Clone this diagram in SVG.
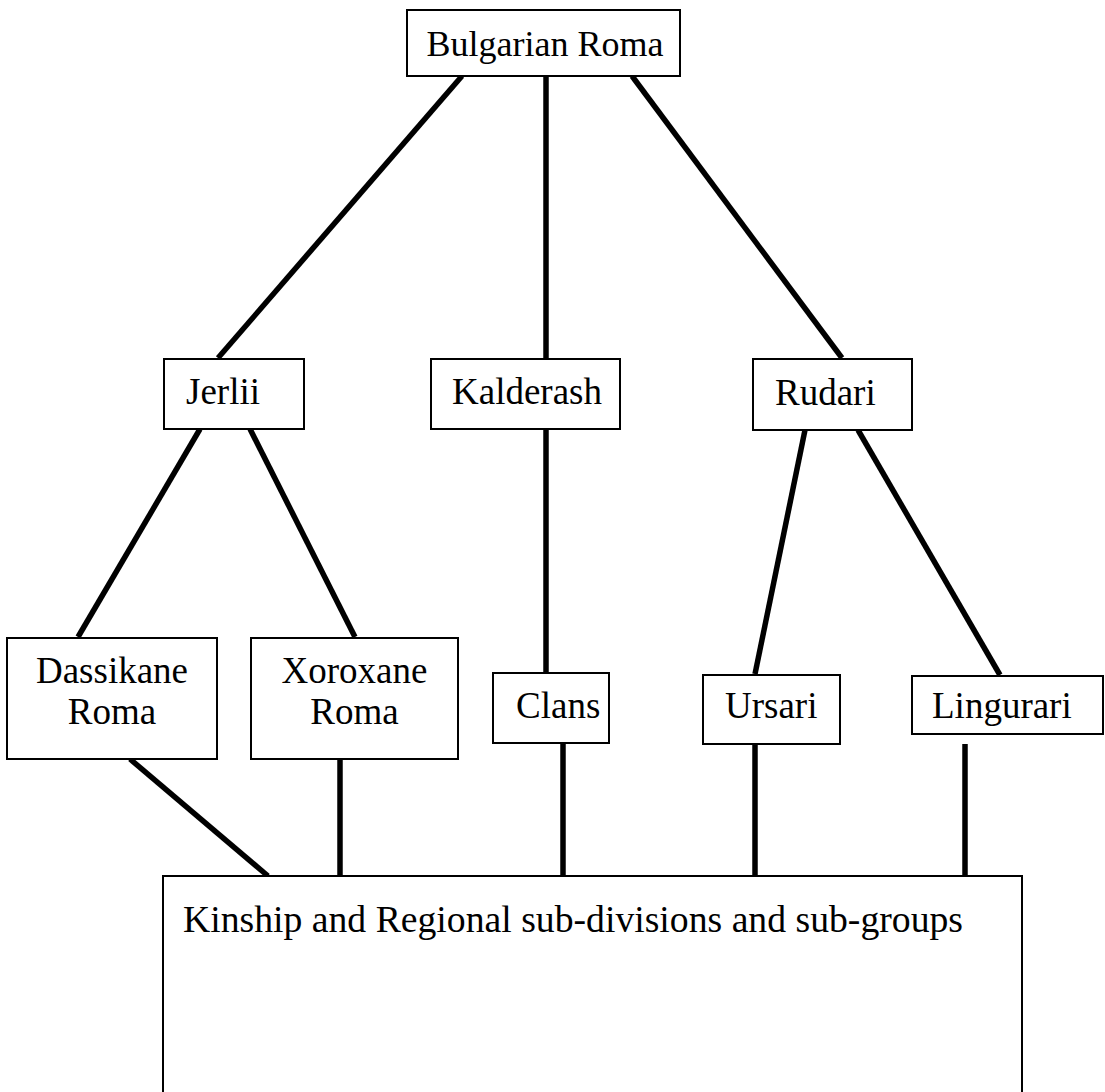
<svg xmlns="http://www.w3.org/2000/svg" width="1105" height="1092" viewBox="0 0 1105 1092">
<style>
.box{fill:#fff;stroke:#000;stroke-width:2}
.t{font-family:"Liberation Serif","Times New Roman",serif;font-size:37px;fill:#000}
.c{stroke:#000;stroke-width:5.5;fill:none}
</style>
<rect width="1105" height="1092" fill="#fff"/>
<g id="connectors">
<line class="c" x1="462" y1="76" x2="218" y2="358"/>
<line class="c" x1="546" y1="76" x2="546" y2="358"/>
<line class="c" x1="632" y1="76" x2="842" y2="358"/>
<line class="c" x1="200" y1="429" x2="78" y2="637"/>
<line class="c" x1="250" y1="429" x2="355" y2="637"/>
<line class="c" x1="546" y1="429" x2="546" y2="672"/>
<line class="c" x1="805" y1="430" x2="755" y2="674"/>
<line class="c" x1="858" y1="430" x2="1000" y2="675"/>
<line class="c" x1="130" y1="759" x2="268" y2="876"/>
<line class="c" x1="340" y1="759" x2="340" y2="876"/>
<line class="c" x1="563" y1="743" x2="563" y2="876"/>
<line class="c" x1="755" y1="744" x2="755" y2="876"/>
<line class="c" x1="965" y1="744" x2="965" y2="876"/>
</g>
<g id="bulgarian-roma"><rect class="box" x="407" y="10" width="273" height="66"/><text class="t" x="545" y="56" text-anchor="middle" style="font-size:36px">Bulgarian Roma</text></g>
<g id="jerlii"><rect class="box" x="164" y="359" width="140" height="70"/><text class="t" x="186" y="404">Jerlii</text></g>
<g id="kalderash"><rect class="box" x="431" y="359" width="189" height="70"/><text class="t" x="452" y="404">Kalderash</text></g>
<g id="rudari"><rect class="box" x="753" y="359" width="159" height="71"/><text class="t" x="775" y="405">Rudari</text></g>
<g id="dassikane"><rect class="box" x="7" y="638" width="210" height="121"/><text class="t" x="112" y="683" text-anchor="middle">Dassikane</text><text class="t" x="112" y="724" text-anchor="middle">Roma</text></g>
<g id="xoroxane"><rect class="box" x="251" y="638" width="207" height="121"/><text class="t" x="354.5" y="683" text-anchor="middle">Xoroxane</text><text class="t" x="354.5" y="724" text-anchor="middle">Roma</text></g>
<g id="clans"><rect class="box" x="493" y="673" width="116" height="70"/><text class="t" x="516" y="718">Clans</text></g>
<g id="ursari"><rect class="box" x="703" y="675" width="137" height="69"/><text class="t" x="725" y="718">Ursari</text></g>
<g id="lingurari"><rect class="box" x="912" y="676" width="191" height="58"/><text class="t" x="932" y="718">Lingurari</text></g>
<g id="kinship"><rect class="box" x="163" y="876" width="859" height="240"/><text class="t" x="183" y="932" textLength="780" lengthAdjust="spacingAndGlyphs">Kinship and Regional sub-divisions and sub-groups</text></g>
</svg>
